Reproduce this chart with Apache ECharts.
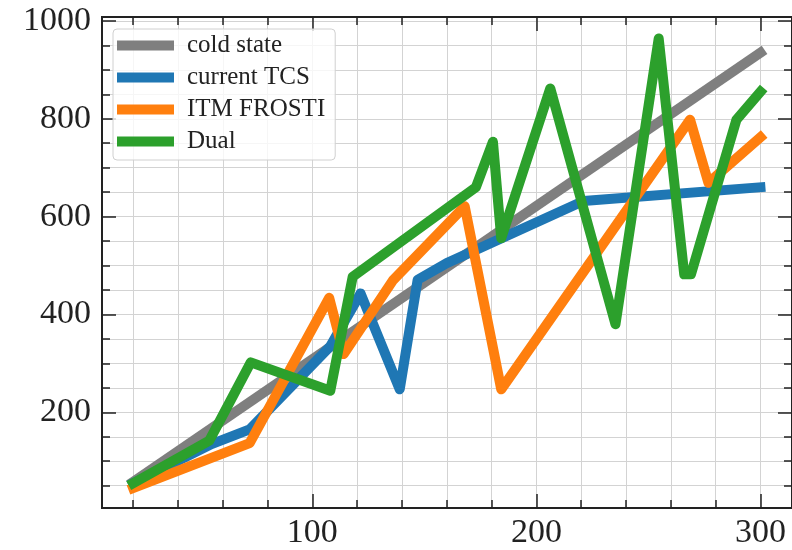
<!DOCTYPE html>
<html>
<head>
<meta charset="utf-8">
<script src="https://cdn.jsdelivr.net/npm/echarts@6/dist/echarts.min.js"></script>
<style>
  html, body { margin: 0; padding: 0; background: #fff; }
  #main { width: 792px; height: 550px; }
</style>
</head>
<body>
<div id="main"></div>
<script>
// values
var seriesNames = ['cold state', 'current TCS', 'ITM FROSTI', 'Dual'];
var seriesColors = ['#7f7f7f', '#1f77b4', '#ff7f0e', '#2ca02c'];

var coldX = [20, 300];
var coldY = [58, 935];
var tcsX = [20, 55, 72, 108, 121.5, 139, 147, 160, 221, 300];
var tcsY = [55, 135, 165, 335, 443, 247, 471, 505, 632, 660];
var itmX = [20, 72, 107.5, 114, 136, 168, 184.3, 268.6, 276.8, 300];
var itmY = [45, 137, 434, 319, 470, 621, 247, 798, 669, 762];
var dualX = [20, 54, 72.5, 108, 118, 173, 180.6, 184.3, 206.2, 235.3, 254.6, 266, 269, 289.3, 300];
var dualY = [55, 142, 302, 244, 477, 660, 753, 556, 862, 380, 964, 482, 482, 798, 855];

// tick positions
var xMinorTicks = [20, 40, 60, 80, 100, 120, 140, 160, 180, 200, 220, 240, 260, 280, 300];
var xMajorTicks = [100, 200, 300];
var yMinorTicks = [50, 100, 150, 200, 250, 300, 350, 400, 450, 500, 550, 600, 650, 700, 750, 800, 850, 900, 950, 1000];
var yMajorTicks = [200, 400, 600, 800, 1000];

var xRange = [6.1, 314.1];
var yRange = [4.4, 1008];

var ink = '#222';
var serif = 'Liberation Serif';

function zip(xs, ys) {
  return xs.map(function (x, i) { return [x, ys[i]]; });
}

function axisDef(pos, range, ticks, len, labels, split) {
  return {
    type: 'value',
    position: pos,
    min: range[0],
    max: range[1],
    axisLine: { show: true, onZero: false, lineStyle: { color: ink, width: 2 } },
    axisTick: { show: true, inside: true, length: len, customValues: ticks,
                lineStyle: { color: ink, width: 1.5 } },
    axisLabel: { show: labels, customValues: ticks, color: ink, fontFamily: serif,
                 fontSize: 34, margin: pos === 'bottom' ? 8 : 11,
                 formatter: function (v) { return String(v); } },
    splitLine: { show: split, lineStyle: { color: '#d3d3d3', width: 1 } }
  };
}

var chart = echarts.init(document.getElementById('main'));

var lineData = [zip(coldX, coldY), zip(tcsX, tcsY), zip(itmX, itmY), zip(dualX, dualY)];

chart.setOption({
  animation: false,
  backgroundColor: '#fff',
  grid: { left: 102, top: 17, right: -4, bottom: 40.7, containLabel: false },
  xAxis: [
    axisDef('bottom', xRange, xMinorTicks, 8, false, true),
    axisDef('bottom', xRange, xMajorTicks, 14, true, false),
    axisDef('top', xRange, xMinorTicks, 8, false, false),
    axisDef('top', xRange, xMajorTicks, 14, false, false)
  ],
  yAxis: [
    axisDef('left', yRange, yMinorTicks, 8, false, true),
    axisDef('left', yRange, yMajorTicks, 14, true, false),
    axisDef('right', yRange, yMinorTicks, 8, false, false),
    axisDef('right', yRange, yMajorTicks, 14, false, false)
  ],
  legend: {
    orient: 'vertical',
    left: 113,
    top: 29,
    icon: 'rect',
    itemWidth: 57,
    itemHeight: 10,
    itemGap: 7,
    padding: [4, 10, 6, 4],
    backgroundColor: 'rgba(255,255,255,0.8)',
    borderColor: '#d0d0d0',
    borderWidth: 1,
    borderRadius: 4,
    textStyle: { fontFamily: serif, fontSize: 25, color: ink, lineHeight: 22, padding: [0, 0, 0, 8] },
    data: seriesNames
  },
  series: seriesNames.map(function (name, i) {
    return {
      name: name,
      type: 'line',
      xAxisIndex: 0,
      yAxisIndex: 0,
      symbol: 'none',
      color: seriesColors[i],
      lineStyle: { width: 10, color: seriesColors[i], cap: 'square', join: 'round' },
      data: lineData[i]
    };
  })
});
</script>
</body>
</html>
